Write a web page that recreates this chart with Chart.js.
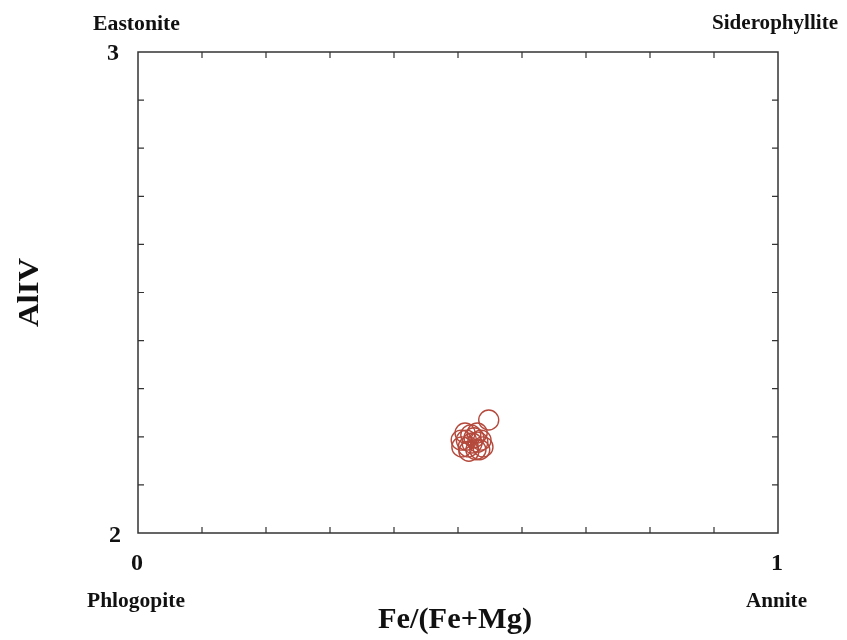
<!DOCTYPE html>
<html>
<head>
<meta charset="utf-8">
<script src="https://cdn.jsdelivr.net/npm/chart.js@4/dist/chart.umd.min.js"></script>
<style>
  body { margin: 0; background: #fff; }
  canvas { display: block; }
</style>
</head>
<body>
<canvas id="biotiteChart" width="847" height="640"></canvas>
<script>
// Fe/(Fe+Mg) vs AlIV values
const feRatio = [0.548, 0.506, 0.513, 0.520, 0.530, 0.536, 0.539, 0.528, 0.517, 0.522, 0.511, 0.531, 0.516, 0.525, 0.505, 0.534];
const alIV    = [2.235, 2.179, 2.193, 2.204, 2.208, 2.193, 2.179, 2.173, 2.170, 2.187, 2.208, 2.189, 2.179, 2.198, 2.193, 2.173];

const xTickLabels = [0, 1];
const yTickLabels = [2, 3];
const cornerNames = ['Eastonite', 'Siderophyllite', 'Phlogopite', 'Annite'];

const serif = '"Liberation Serif", "DejaVu Serif", serif';

// draw text squeezed/stretched to a given width (reference text is wide)
function fitText(ctx, text, left, baseline, width) {
    const w = ctx.measureText(text).width;
    ctx.save();
    ctx.translate(left, baseline);
    ctx.scale(width / w, 1);
    ctx.textAlign = 'left';
    ctx.fillText(text, 0, 0);
    ctx.restore();
}

const framePlugin = {
    id: 'frame',
    afterDraw(chart) {
        const ctx = chart.ctx;
        const area = chart.chartArea;
        const xs = chart.scales.x;
        const ys = chart.scales.y;
        ctx.save();

        // frame
        ctx.strokeStyle = '#333';
        ctx.lineWidth = 1.5;
        ctx.strokeRect(area.left, area.top, area.right - area.left, area.bottom - area.top);

        // inward minor ticks
        ctx.lineWidth = 1.2;
        ctx.beginPath();
        for (let i = 1; i < 10; i++) {
            const px = xs.getPixelForValue(i / 10);
            ctx.moveTo(px, area.bottom); ctx.lineTo(px, area.bottom - 6);
            ctx.moveTo(px, area.top); ctx.lineTo(px, area.top + 6);
            const py = ys.getPixelForValue(2 + i / 10);
            ctx.moveTo(area.left, py); ctx.lineTo(area.left + 6, py);
            ctx.moveTo(area.right, py); ctx.lineTo(area.right - 6, py);
        }
        ctx.stroke();

        // tick labels
        ctx.fillStyle = '#111';
        ctx.font = 'bold 24px ' + serif;
        ctx.textAlign = 'center';
        ctx.textBaseline = 'middle';
        xTickLabels.forEach(v => ctx.fillText(String(v), xs.getPixelForValue(v) - 1, area.bottom + 31));
        ctx.textAlign = 'right';
        ctx.fillText(String(yTickLabels[0]), area.left - 17, ys.getPixelForValue(yTickLabels[0]) + 3);
        ctx.fillText(String(yTickLabels[1]), area.left - 19, ys.getPixelForValue(yTickLabels[1]) + 2);

        // corner names
        ctx.textBaseline = 'alphabetic';
        ctx.font = 'bold 20px ' + serif;
        fitText(ctx, cornerNames[0], 93, 30, 87);
        fitText(ctx, cornerNames[1], 712, 29, 126);
        fitText(ctx, cornerNames[2], 87, 607, 98);
        fitText(ctx, cornerNames[3], 746, 607, 61);

        // axis titles
        ctx.font = 'bold 30px ' + serif;
        fitText(ctx, 'Fe/(Fe+Mg)', 378, 628, 154);
        ctx.translate(38, 327);
        ctx.rotate(-Math.PI / 2);
        fitText(ctx, 'AlIV', 0, 0, 69);
        ctx.restore();
    }
};

document.addEventListener('DOMContentLoaded', function () {
    const ctx = document.getElementById('biotiteChart').getContext('2d');

    const points = feRatio.map((x, i) => ({ x: x, y: alIV[i] }));

    new Chart(ctx, {
        type: 'scatter',
        data: {
            datasets: [{
                data: points,
                pointStyle: 'circle',
                pointRadius: 10,
                pointBorderWidth: 1.4,
                borderColor: '#b4493c',
                backgroundColor: 'rgba(255,255,255,0)'
            }]
        },
        options: {
            responsive: false,
            animation: false,
            layout: {
                padding: { left: 138, right: 69, top: 52, bottom: 107 }
            },
            scales: {
                x: { type: 'linear', min: 0, max: 1, display: false },
                y: { type: 'linear', min: 2, max: 3, display: false }
            },
            plugins: {
                legend: { display: false },
                tooltip: { enabled: false }
            }
        },
        plugins: [framePlugin]
    });
});
</script>
</body>
</html>
